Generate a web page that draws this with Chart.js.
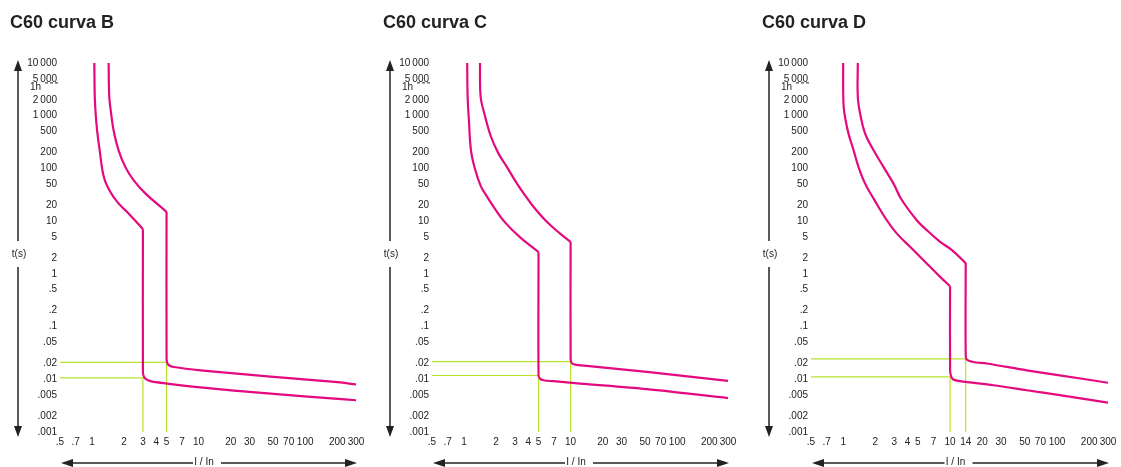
<!DOCTYPE html>
<html>
<head>
<meta charset="utf-8">
<script src="https://cdn.jsdelivr.net/npm/chart.js@4.4.1/dist/chart.umd.min.js"></script>
<style>
  body { margin: 0; background: #fff; width: 1121px; height: 467px; overflow: hidden; position: relative; font-family: 'Liberation Sans', Arial, sans-serif; }
  .panel { position: absolute; top: 0; height: 467px; }
  .title { position: absolute; top: 11px; font-weight: bold; font-size: 18px; line-height: 22px; color: #222; white-space: nowrap; }
</style>
</head>
<body>
<div class="panel" style="left:0;width:373px"><canvas id="chartB" width="373" height="467"></canvas></div>
<div class="panel" style="left:373px;width:374px"><canvas id="chartC" width="374" height="467"></canvas></div>
<div class="panel" style="left:747px;width:374px"><canvas id="chartD" width="374" height="467"></canvas></div>
<div class="title" style="left:10px">C60 curva B</div>
<div class="title" style="left:383px">C60 curva C</div>
<div class="title" style="left:762px">C60 curva D</div>
<script>
// Axis ticks
const yTickValues = [10000, 5000, 2000, 1000, 500, 200, 100, 50, 20, 10, 5, 2, 1, 0.5, 0.2, 0.1, 0.05, 0.02, 0.01, 0.005, 0.002, 0.001];
const yTickLabels = ['10\u2009000', '5\u2009000', '2\u2009000', '1\u2009000', '500', '200', '100', '50', '20', '10', '5', '2', '1', '.5', '.2', '.1', '.05', '.02', '.01', '.005', '.002', '.001'];
const xTickValues = [0.5, 0.7, 1, 2, 3, 4, 5, 7, 10, 20, 30, 50, 70, 100, 200, 300];
const xTickValuesD = [0.5, 0.7, 1, 2, 3, 4, 5, 7, 10, 14, 20, 30, 50, 70, 100, 200, 300];
const hourSeconds = 3600;

// Tripping curves, [I/In, t(s)]
const bLow = [[1.05, 10000], [1.06, 2290], [1.08, 1100], [1.114, 535], [1.178, 223], [1.29, 69], [1.48, 36], [1.77, 21.7], [2.2, 14], [3, 7.05], [3, 0.0138], [3.05, 0.0115], [3.16, 0.0103], [3.52, 0.0092], [5.07, 0.0083], [10.4, 0.0070], [44.5, 0.0054], [189, 0.0043], [300, 0.0040]];
const bHigh = [[1.43, 10000], [1.45, 2290], [1.51, 1100], [1.59, 535], [1.77, 223], [2.05, 107], [2.45, 60], [3.16, 33.6], [5, 15], [5, 0.0247], [5.08, 0.0205], [5.25, 0.0185], [5.85, 0.0171], [10.4, 0.0148], [44.5, 0.0114], [189, 0.0089], [300, 0.0080]];
const bRefI = [3, 5];
const bRefT = [0.0106, 0.021];

const cLow = [[1.07, 10000], [1.08, 2290], [1.11, 828], [1.16, 223], [1.26, 101], [1.435, 46.2], [1.63, 29.9], [1.9, 18.5], [2.41, 9.57], [3.34, 4.97], [5, 2.58], [5, 0.0119], [5.15, 0.0103], [5.56, 0.0096], [6.9, 0.0092], [12.3, 0.0083], [51.9, 0.0065], [300, 0.0044]];
const cHigh = [[1.41, 10000], [1.43, 2290], [1.55, 1100], [1.79, 399], [2.1, 193], [2.52, 107], [3.13, 52], [3.72, 31.2], [4.48, 18.7], [5.98, 9.7], [7.97, 5.8], [10, 4.05], [10, 0.0247], [10.2, 0.0205], [11, 0.019], [14.2, 0.0179], [52, 0.0138], [300, 0.0093]];
const cRefI = [5, 10];
const cRefT = [0.0118, 0.0216];

const dLow = [[1.0, 10000], [1.0, 3000], [1.01, 1500], [1.04, 955], [1.12, 462], [1.25, 223], [1.39, 107], [1.6, 52], [1.92, 27], [2.56, 10.4], [3.18, 5.8], [4.39, 3.03], [6.05, 1.57], [8.07, 0.877], [10, 0.583], [10, 0.0148], [10.2, 0.0115], [10.7, 0.0099], [12.4, 0.0092], [25.4, 0.0077], [52, 0.0062], [106, 0.005], [300, 0.0036]];
const dHigh = [[1.37, 10000], [1.37, 2290], [1.44, 1100], [1.6, 462], [1.92, 223], [2.38, 107], [2.95, 52], [3.5, 26], [4.88, 10.4], [6.05, 6.75], [8.07, 4.05], [10.4, 2.82], [14, 1.6], [14, 0.0286], [14.4, 0.0235], [16.5, 0.0213], [22, 0.0199], [52, 0.0148], [106, 0.0119], [300, 0.0086]];
const dRefI = [10, 14];
const dRefT = [0.0111, 0.0243];

const curveColor = '#e5097f';
const refColor = '#b7e22c';
const textColor = '#222';
const fontFamily = "'Liberation Sans', Arial, sans-serif";

function fmtX(v) {
    return v < 1 ? String(v).replace('0.', '.') : String(v);
}

// Arrows, axis names and the 1h marker
const axisArrows = {
    id: 'axisArrows',
    afterDraw(chart, args, opts) {
        const ctx = chart.ctx;
        const a = chart.chartArea;
        ctx.save();
        ctx.strokeStyle = textColor;
        ctx.fillStyle = textColor;
        ctx.lineWidth = 1.5;
        ctx.font = '10px ' + fontFamily;
        ctx.textAlign = 'center';
        ctx.textBaseline = 'middle';

        const seg = (x1, y1, x2, y2) => { ctx.beginPath(); ctx.moveTo(x1, y1); ctx.lineTo(x2, y2); ctx.stroke(); };
        const tri = (p) => { ctx.beginPath(); ctx.moveTo(p[0], p[1]); ctx.lineTo(p[2], p[3]); ctx.lineTo(p[4], p[5]); ctx.closePath(); ctx.fill(); };

        // vertical t(s) arrow
        const vx = opts.x, top = 60, bot = 437, mid = 254;
        seg(vx, top + 8, vx, mid - 13);
        seg(vx, mid + 13, vx, bot - 8);
        tri([vx, top, vx - 4, top + 11, vx + 4, top + 11]);
        tri([vx, bot, vx - 4, bot - 11, vx + 4, bot - 11]);
        ctx.fillText('t(s)', vx + 1, mid);

        // horizontal I / In arrow
        const hy = 463, l = a.left + 1, r = a.right + 1, c = (a.left + a.right) / 2;
        seg(l + 10, hy, c - 15, hy);
        seg(c + 13, hy, r - 10, hy);
        tri([l, hy, l + 12, hy - 4, l + 12, hy + 4]);
        tri([r, hy, r - 12, hy - 4, r - 12, hy + 4]);
        ctx.fillText('I / In', c - 4, hy - 1);

        // 1h marker
        const y1h = chart.scales.y.getPixelForValue(hourSeconds);
        ctx.textAlign = 'left';
        ctx.fillText('1h', a.left - 30, y1h + 1);
        ctx.lineWidth = 1;
        ctx.setLineDash([3, 2]);
        seg(a.left - 15, y1h - 3.5, a.left - 2, y1h - 3.5);
        ctx.restore();
    }
};

function refLine(i, t) {
    return [{ x: 0.5, y: t }, { x: i, y: t }, { x: i, y: 0.001 }];
}

// split a curve where it drops straight down (the magnetic trip)
function splitCurve(arr) {
    let cut = 0, best = 0;
    for (let i = 0; i < arr.length - 1; i++) {
        if (arr[i][0] === arr[i + 1][0]) {
            const drop = arr[i][1] / arr[i + 1][1];
            if (drop > best) { best = drop; cut = i; }
        }
    }
    const pts = arr.map(p => ({ x: p[0], y: p[1] }));
    return [pts.slice(0, cut + 1), pts.slice(cut)];
}

function makeChart(id, low, high, refI, refT, xTicks, yWidth, padRight, arrowX) {
    const ds = (data, color, width, tension) => ({
        data: data, borderColor: color, borderWidth: width,
        pointRadius: 0, tension: tension, fill: false
    });
    const lo = splitCurve(low), hi = splitCurve(high);
    return new Chart(document.getElementById(id), {
        type: 'line',
        data: {
            datasets: [
                ds(lo[0], curveColor, 2.2, 0.4),
                ds(lo[1], curveColor, 2.2, 0.3),
                ds(hi[0], curveColor, 2.2, 0.4),
                ds(hi[1], curveColor, 2.2, 0.3),
                ds(refLine(refI[0], refT[0]), refColor, 1.2, 0),
                ds(refLine(refI[1], refT[1]), refColor, 1.2, 0)
            ]
        },
        options: {
            responsive: false,
            animation: false,
            layout: { padding: { left: 0, right: padRight, top: 63, bottom: 0 } },
            plugins: {
                legend: { display: false },
                tooltip: { enabled: false },
                axisArrows: { x: arrowX }
            },
            scales: {
                x: {
                    type: 'logarithmic',
                    min: 0.5,
                    max: 300,
                    grid: { display: false, drawTicks: false },
                    border: { display: false },
                    afterBuildTicks: s => { s.ticks = xTicks.map(v => ({ value: v })); },
                    afterFit: s => { s.height = 35; s.paddingLeft = 0; s.paddingRight = 0; },
                    ticks: {
                        autoSkip: false, maxRotation: 0, padding: 4,
                        color: textColor, font: { family: fontFamily, size: 10 },
                        callback: v => fmtX(v)
                    }
                },
                y: {
                    type: 'logarithmic',
                    min: 0.001,
                    max: 10000,
                    grid: { display: false, drawTicks: false },
                    border: { display: false },
                    afterBuildTicks: s => { s.ticks = yTickValues.map(v => ({ value: v })); },
                    afterFit: s => { s.width = yWidth; s.paddingTop = 0; s.paddingBottom = 0; },
                    ticks: {
                        autoSkip: false, padding: 3,
                        color: textColor, font: { family: fontFamily, size: 10 },
                        callback: v => {
                            const i = yTickValues.indexOf(v);
                            return i >= 0 ? yTickLabels[i] : '';
                        }
                    }
                }
            }
        },
        plugins: [axisArrows]
    });
}

makeChart('chartB', bLow, bHigh, bRefI, bRefT, xTickValues, 60, 17, 18);
makeChart('chartC', cLow, cHigh, cRefI, cRefT, xTickValues, 59, 19, 17);
makeChart('chartD', dLow, dHigh, dRefI, dRefT, xTickValuesD, 64, 13, 22);
</script>
</body>
</html>
